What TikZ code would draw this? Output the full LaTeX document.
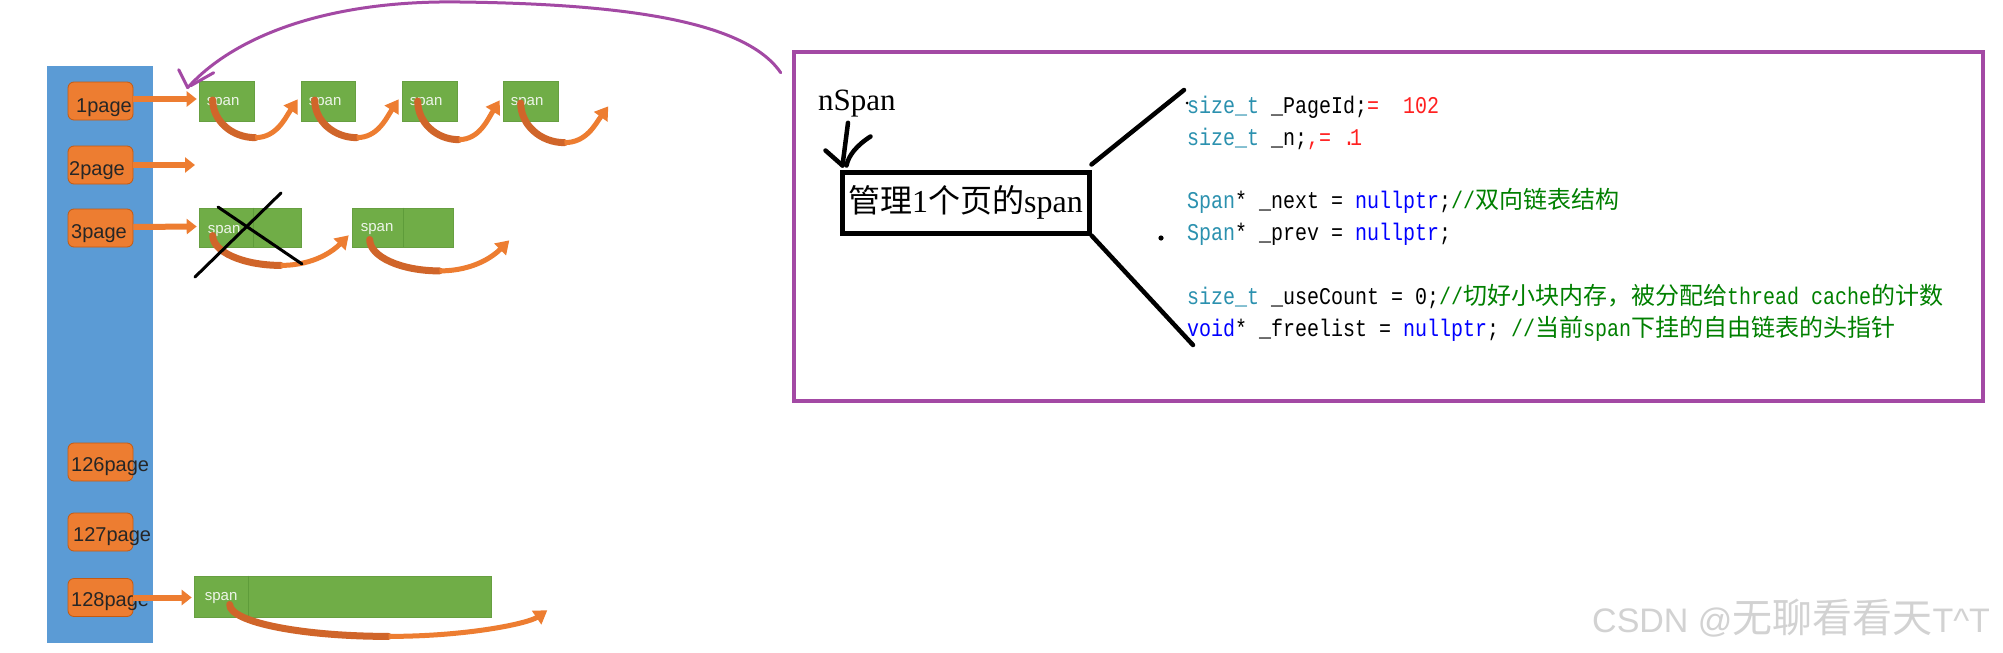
\documentclass[tikz,border=0pt]{standalone}
\usepackage{fontspec}
\setmainfont{Liberation Serif}
\newfontfamily\lsans{Liberation Sans}
\newfontfamily\zhfont{Noto Sans CJK SC}
\newfontfamily\codefont{Liberation Mono}[FakeStretch=0.833]
\usetikzlibrary{arrows.meta,calc}
\definecolor{barblue}{HTML}{5B9BD5}
\definecolor{pgorange}{HTML}{ED7D31}
\definecolor{pgorangeD}{HTML}{C55A11}
\definecolor{arcdk}{HTML}{D0652A}
\definecolor{spgreen}{HTML}{70AD47}
\definecolor{spgreenD}{HTML}{5E9C3A}
\definecolor{ppurple}{HTML}{A349A4}
\definecolor{vsteal}{HTML}{2B91AF}
\definecolor{vsblue}{HTML}{0000FF}
\definecolor{vsgreen}{HTML}{008000}
\definecolor{annred}{HTML}{FF2020}
\definecolor{wmgray}{HTML}{D2D2D2}
\newcommand\zh[1]{{\zhfont #1}}
\newcommand\orarc[4]{%
 \draw[arcdark] let \p1=(#1),\p2=(#2) in (\p1) .. controls (\x1,{\y1+0.55*(\y2-\y1)}) and ({\x2-0.55*(\x2-\x1)},\y2) .. (\p2);
 \draw[arclight] let \p2=(#2),\p3=(#3) in (\p2) .. controls ({\x2+0.5*(\x3-\x2)},\y2) and ({\x3-#4*(\x3-\x2)},{\y3+0.5*(\y2-\y3)}) .. (\p3);
}
\begin{document}
\begin{tikzpicture}[x=1pt,y=-1pt,
  pagebox/.style={draw=pgorangeD, line width=0.8, fill=pgorange, rounded corners=6, minimum width=65, minimum height=38, inner sep=0},
  pagelbl/.style={anchor=west, inner sep=0, font=\lsans\fontsize{20}{24}\selectfont, text=black!85},
  spanbox/.style={fill=spgreen, draw=spgreen!92!black, line width=0.6, inner sep=0},
  spanlbl/.style={anchor=west, inner sep=0, text=white!88!spgreen, font=\lsans\fontsize{15}{18}\selectfont},
  divider/.style={draw=spgreenD, line width=0.8},
  feed/.style={draw=pgorange, line width=6, -{Triangle[width=15pt,length=10pt]}},
  arcdark/.style={draw=arcdk, line width=7, line cap=round},
  arclight/.style={draw=pgorange, line width=5, -{Triangle[width=16pt,length=13pt]}},
  purp/.style={draw=ppurple, line width=3, line cap=round, line join=round},
  ink/.style={draw=black, line width=4.5, line cap=round, line join=round},
  codeline/.style={anchor=base west, inner sep=0, font=\codefont\fontsize{24}{28}\selectfont}
]
\useasboundingbox (0,0) rectangle (2003,653);
\fill[white] (0,0) rectangle (2003,653);

% left blue bar
\node[fill=barblue, minimum width=106, minimum height=577, inner sep=0] (bar) at (100,354.5) {};

% page boxes
\node[pagebox] (o1) at (100.5,101) {};
\node[pagebox] (o2) at (100.5,165) {};
\node[pagebox] (o3) at (100.5,228) {};
\node[pagebox] (o126) at (100.5,462) {};
\node[pagebox] (o127) at (100.5,532) {};
\node[pagebox] (o128) at (100.5,597.5) {};
\node[pagelbl] (t1) at (76,108) {1page};
\node[pagelbl] (t2) at (69,171) {2page};
\node[pagelbl] (t3) at (71,234) {3page};
\node[pagelbl] (t126) at (71,467) {126page};
\node[pagelbl] (t127) at (73,537) {127page};
\node[pagelbl] (t128) at (71,602) {128page};

% row 1 spans
\node[spanbox, minimum width=55, minimum height=40] (s11) at (226.5,101) {};
\node[spanbox, minimum width=54, minimum height=40] (s12) at (328,101) {};
\node[spanbox, minimum width=55, minimum height=40] (s13) at (429.5,101) {};
\node[spanbox, minimum width=55, minimum height=40] (s14) at (530.5,101) {};
\foreach \s in {s11,s12,s13,s14} \node[spanlbl] at ($(\s.west)+(8,2)$) {span};

% row 3 spans
\node[spanbox, minimum width=102, minimum height=39] (r31) at (250,227.5) {};
\node[spanbox, minimum width=101, minimum height=39] (r32) at (402.5,227.5) {};
\draw[divider] ($(r31.north west)+(55,0)$) -- ($(r31.south west)+(55,0)$);
\draw[divider] ($(r32.north west)+(52,0)$) -- ($(r32.south west)+(52,0)$);
\node[spanlbl] at ($(r31.west)+(9,4)$) {span};
\node[spanlbl] at ($(r32.west)+(9,2)$) {span};

% row 128 span
\node[spanbox, minimum width=297, minimum height=41] (r128) at (342.5,596.5) {};
\draw[divider] ($(r128.north west)+(55,0)$) -- ($(r128.south west)+(55,0)$);
\node[spanlbl] at ($(r128.west)+(11,2)$) {span};

% feed arrows
\coordinate (f2) at (195,165);
\draw[feed] (o1.east) ++(0,-2) -- ($(s11.west)+(-2,-2)$);
\draw[feed] (o2.east) -- (f2);
\draw[feed] (o3.east) ++(0,-1) -- ($(r31.west)+(-2,-1)$);
\draw[feed] (o128.east) -- ($(r128.west)+(-2,1)$);

% row 1 arcs
\coordinate (a1s) at ($(s11.west)+(14,-1)$);
\coordinate (a1t) at ($(s12.south west)+(-3,-22)$);
\coordinate (a1b) at ($(a1s)!.5!(a1t)+(0,38)$);
\coordinate (a2s) at ($(s12.west)+(14,-1)$);
\coordinate (a2t) at ($(s13.south west)+(-3,-22)$);
\coordinate (a2b) at ($(a2s)!.5!(a2t)+(0,38)$);
\coordinate (a3s) at ($(s13.west)+(16,0)$);
\coordinate (a3t) at ($(s14.south west)+(-3,-21)$);
\coordinate (a3b) at ($(a3s)!.5!(a3t)+(0,39)$);
\coordinate (a4s) at ($(s14.west)+(18,2)$);
\coordinate (a4t) at ($(s14.south east)+(50,-15)$);
\coordinate (a4b) at ($(a4s)!.5!(a4t)+(0,38)$);
\orarc{a1s}{a1b}{a1t}{0.3}
\orarc{a2s}{a2b}{a2t}{0.3}
\orarc{a3s}{a3b}{a3t}{0.3}
\orarc{a4s}{a4b}{a4t}{0.3}

% row 3 arcs
\coordinate (b1s) at ($(r31.west)+(14,8)$);
\coordinate (b1t) at ($(r32.south west)+(-3,-12)$);
\coordinate (b1b) at ($(b1s)!.5!(b1t)+(0,30)$);
\coordinate (b2s) at ($(r32.west)+(18,12)$);
\coordinate (b2t) at ($(r32.south east)+(56,-7)$);
\coordinate (b2b) at ($(b2s)!.5!(b2t)+(0,31)$);
\orarc{b1s}{b1b}{b1t}{0.22}
\orarc{b2s}{b2b}{b2t}{0.22}

% row 128 arc
\coordinate (cs) at ($(r128.west)+(36,8)$);
\coordinate (ct) at ($(r128.south east)+(56,-7)$);
\coordinate (cb) at ($(cs)!.5!(ct)+(0,29)$);
\orarc{cs}{cb}{ct}{0.12}

% cross over the first span of row 3
\draw[draw=black, line width=3, line cap=round] (195,277) -- (281,193);
\draw[draw=black, line width=3, line cap=round] (218,207) -- (302,264);

% purple frame
\node[draw=ppurple, line width=4.5, minimum width=1189, minimum height=349, inner sep=0] (pr) at (1388.5,226.5) {};

% purple hand-drawn arrow
\coordinate (ps) at ($(pr.north west)+(-11,23)$);
\coordinate (pt) at ($(s11.north west)+(-11,7)$);
\draw[purp] (ps) .. controls (745,20) and (620,4) .. (460,2) .. controls (330,0) and (235,35) .. (pt);
\draw[purp] ($(pt)+(-9,-18)$) -- (pt);
\draw[purp] ($(pt)+(26,-15)$) -- ($(pt)+(3,-2)$);

% nSpan and managed box
\node[anchor=base west, inner sep=0, font=\fontsize{31}{36}\selectfont] (nspan) at (818,110) {nSpan};
\node[draw=black, line width=5, minimum width=247, minimum height=61, inner sep=0, font=\fontsize{32}{38}\selectfont] (mgr) at (965.5,202.5) {\zh{管理}1\zh{个页的}span};
\coordinate (na) at ($(mgr.north west)+(3,-4)$);
\draw[ink] ($(nspan.south west)+(30,6)$) -- (na);
\draw[ink] ($(na)+(-17,-15)$) -- (na);
\draw[ink] ($(na)+(28,-29)$) .. controls ($(na)+(14,-20)$) and ($(na)+(6,-10)$) .. ($(na)+(4,0)$);

% lines to the code
\coordinate (ln1) at (1184,90);
\coordinate (ln2) at (1193,345);
\draw[ink] ($(mgr.north east)+(0,-5)$) -- (ln1);
\draw[ink] (mgr.south east) -- (ln2);
\fill[black] (1187,103) circle (1.5);
\fill[black] (1161,238) circle (2.6);

% code
\node[codeline] (c1) at (1187,113) {\textcolor{vsteal}{size\_t} \_PageId;\textcolor{annred}{=~~102}};
\node[codeline] (c2) at (1187,145) {\textcolor{vsteal}{size\_t} \_n;\textcolor{annred}{,=~.\kern-5pt1}};
\node[codeline] (c3) at (1187,208) {\textcolor{vsteal}{Span}* \_next = \textcolor{vsblue}{nullptr};\textcolor{vsgreen}{//\zh{双向链表结构}}};
\node[codeline] (c4) at (1187,240) {\textcolor{vsteal}{Span}* \_prev = \textcolor{vsblue}{nullptr};};
\node[codeline] (c5) at (1187,304) {\textcolor{vsteal}{size\_t} \_useCount = 0;\textcolor{vsgreen}{//\zh{切好小块内存，被分配给}thread cache\zh{的计数}}};
\node[codeline] (c6) at (1187,336) {\textcolor{vsblue}{void}* \_freelist = \textcolor{vsblue}{nullptr}; \textcolor{vsgreen}{//\zh{当前}span\zh{下挂的自由链表的头指针}}};

% watermark
\node[anchor=base west, inner sep=0, text=wmgray] (wm) at (1592,632) {\lsans\fontsize{34}{40}\selectfont CSDN @\zhfont\fontsize{40}{44}\selectfont 无聊看看天\lsans\fontsize{34}{40}\selectfont T\textasciicircum T};
\end{tikzpicture}
\end{document}
